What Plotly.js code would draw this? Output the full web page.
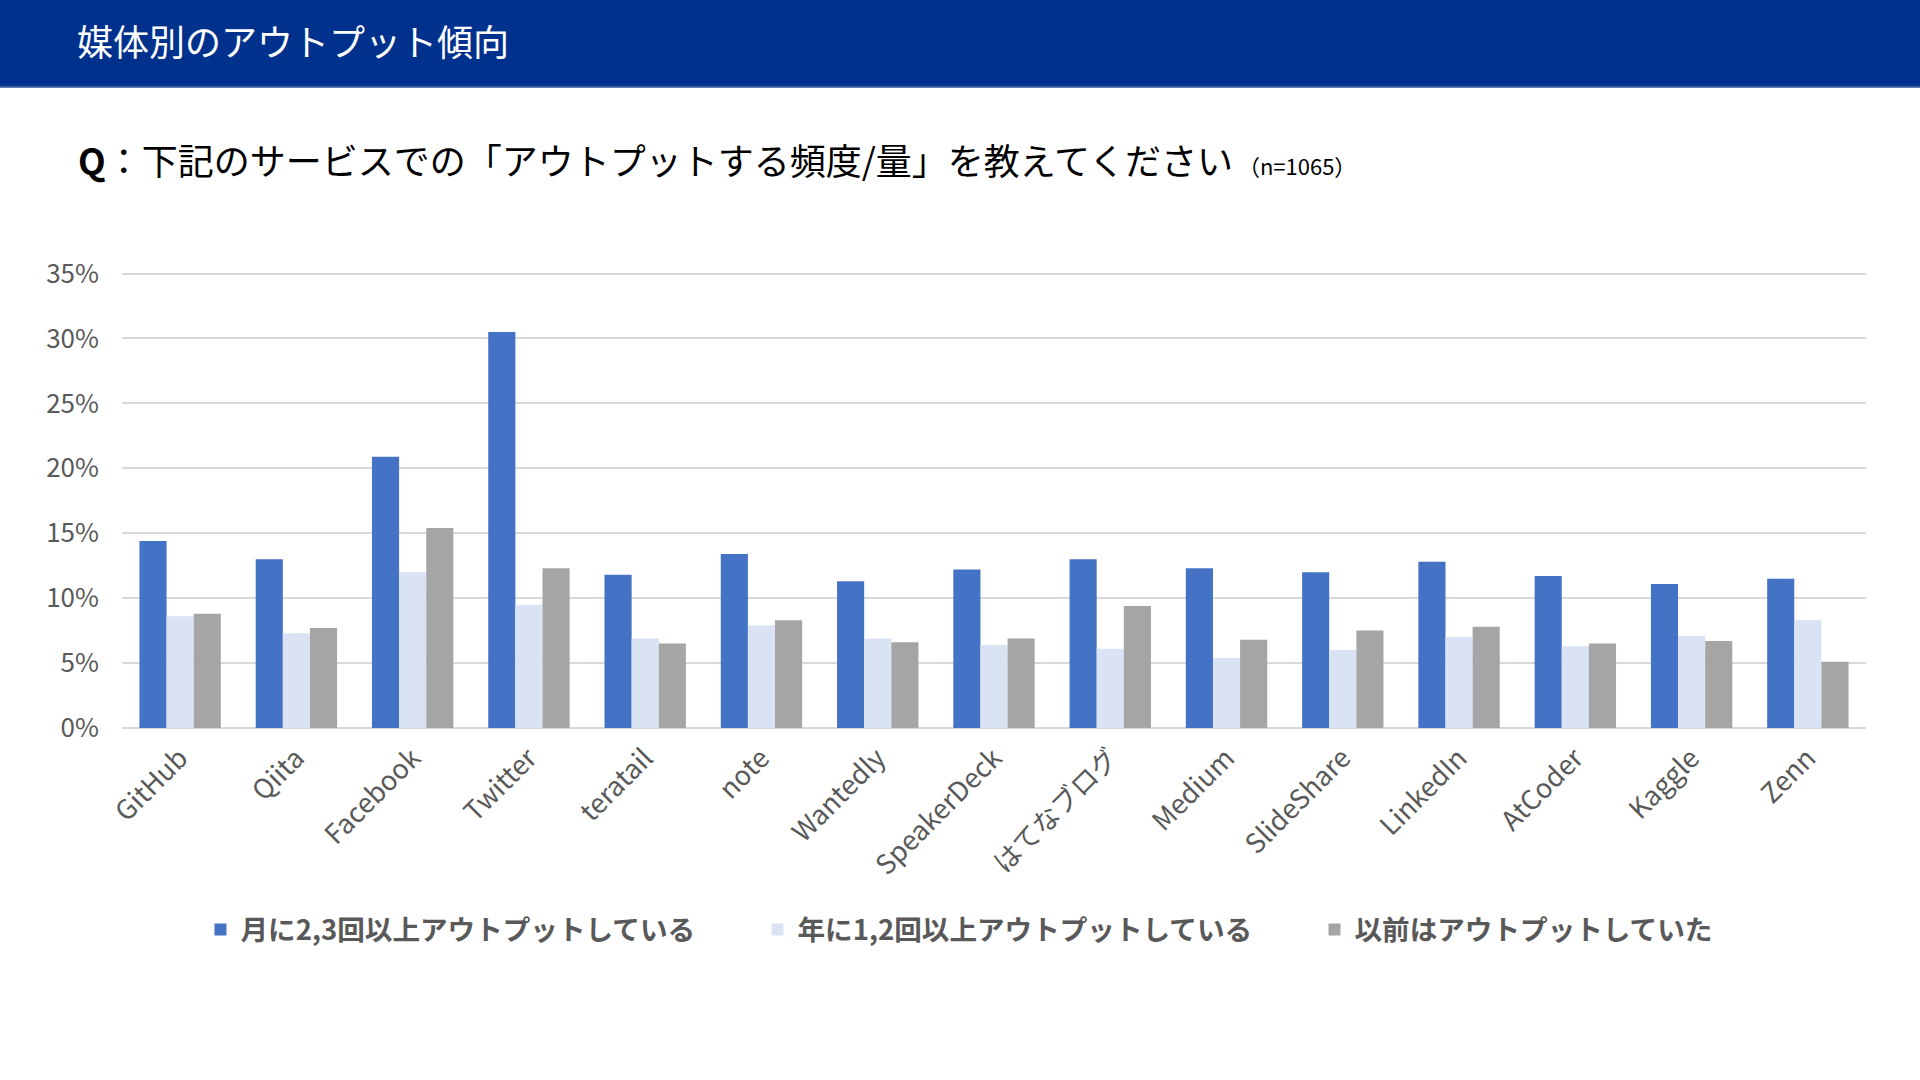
<!DOCTYPE html>
<html>
<head>
<meta charset="utf-8">
<script src="https://cdn.plot.ly/plotly-3.0.1.min.js"></script>
<style>
  html, body { margin: 0; padding: 0; background: #ffffff; }
  #chart { width: 1920px; height: 1080px; }
</style>
</head>
<body>
<div id="chart"></div>
<script>
const categories = ["GitHub", "Qiita", "Facebook", "Twitter", "teratail", "note", "Wantedly", "SpeakerDeck", "はてなブログ", "Medium", "SlideShare", "LinkedIn", "AtCoder", "Kaggle", "Zenn"];
const seriesNames = ["月に2,3回以上アウトプットしている", "年に1,2回以上アウトプットしている", "以前はアウトプットしていた"];
const monthly = [0.144, 0.130, 0.209, 0.305, 0.118, 0.134, 0.113, 0.122, 0.130, 0.123, 0.120, 0.128, 0.117, 0.111, 0.115];
const yearly  = [0.086, 0.073, 0.120, 0.095, 0.069, 0.079, 0.069, 0.064, 0.061, 0.054, 0.060, 0.070, 0.063, 0.071, 0.083];
const before  = [0.088, 0.077, 0.154, 0.123, 0.065, 0.083, 0.066, 0.069, 0.094, 0.068, 0.075, 0.078, 0.065, 0.067, 0.051];
const yTickVals = [0, 0.05, 0.10, 0.15, 0.20, 0.25, 0.30, 0.35];

const colors = ["#4472C4", "#DAE3F3", "#A5A5A5"];
const FONT = '"Noto Sans CJK JP", "Noto Sans", sans-serif';

// plot geometry (px)
const ZERO_Y = 727.7;
const PX_PER_UNIT = 454 / 0.35;
const YMAX = 0.3512;
const PLOT_H = YMAX * PX_PER_UNIT;
const TOP = ZERO_Y - PLOT_H;

const traces = [monthly, yearly, before].map((vals, i) => ({
  type: "bar",
  name: seriesNames[i],
  x: categories,
  y: vals,
  marker: { color: colors[i], line: { width: 0 } },
  hoverinfo: "x+y"
}));

const py = (pix) => (ZERO_Y - pix) / PLOT_H;

const layout = {
  width: 1920,
  height: 1080,
  paper_bgcolor: "#ffffff",
  plot_bgcolor: "#ffffff",
  margin: { l: 122, r: 54, t: TOP, b: 1080 - ZERO_Y, pad: 0 },
  font: { family: FONT, color: "#595959" },
  barmode: "group",
  bargap: 0.30,
  bargroupgap: 0,
  title: {
    text: "媒体別のアウトプット傾向",
    font: { family: FONT, size: 36, color: "#ffffff" },
    xref: "container", yref: "container",
    x: 77 / 1920, xanchor: "left",
    y: 1 - 43 / 1080, yanchor: "middle"
  },
  xaxis: {
    type: "category",
    tickangle: -45,
    tickfont: { family: FONT, size: 27, color: "#595959" },
    showgrid: false,
    showline: false,
    ticks: "",
    ticklabelstandoff: 8,
    automargin: false,
    fixedrange: true
  },
  yaxis: {
    range: [0, YMAX],
    tickvals: yTickVals,
    tickformat: ".0%",
    tickfont: { family: FONT, size: 26, color: "#595959" },
    showgrid: true,
    gridcolor: "#D9D9D9",
    gridwidth: 2,
    zeroline: true,
    zerolinecolor: "#D9D9D9",
    zerolinewidth: 2,
    showline: false,
    ticks: "",
    ticklabelstandoff: 22,
    automargin: false,
    fixedrange: true
  },
  showlegend: true,
  legend: {
    orientation: "h",
    x: 0.045, xanchor: "left",
    y: py(929), yanchor: "middle",
    xref: "paper", yref: "paper",
    font: { family: FONT, size: 27.6, color: "#595959", weight: "bold" },
    entrywidth: 512,
    itemwidth: 30,
    bgcolor: "rgba(0,0,0,0)",
    traceorder: "normal"
  },
  shapes: [
    { type: "rect", xref: "paper", yref: "paper", x0: -0.2, x1: 1.2, y0: py(87), y1: py(-20),
      fillcolor: "#00318C", line: { width: 0 }, layer: "below" },
    { type: "line", xref: "paper", yref: "paper", x0: -0.2, x1: 1.2, y0: py(87), y1: py(87),
      line: { color: "#2F5597", width: 2 }, layer: "below" }
  ],
  annotations: [
    {
      xref: "paper", yref: "paper",
      x: (76 - 122) / 1744, y: py(159),
      xanchor: "left", yanchor: "middle",
      showarrow: false,
      align: "left",
      text: "<b>Q</b>：下記のサービスでの「アウトプットする頻度/量」を教えてください<span style=\"font-size:22px\"> （n=1065）</span>",
      font: { family: FONT, size: 36, color: "#000000" }
    }
  ]
};

Plotly.newPlot("chart", traces, layout, { displayModeBar: false, staticPlot: true });
</script>
</body>
</html>
